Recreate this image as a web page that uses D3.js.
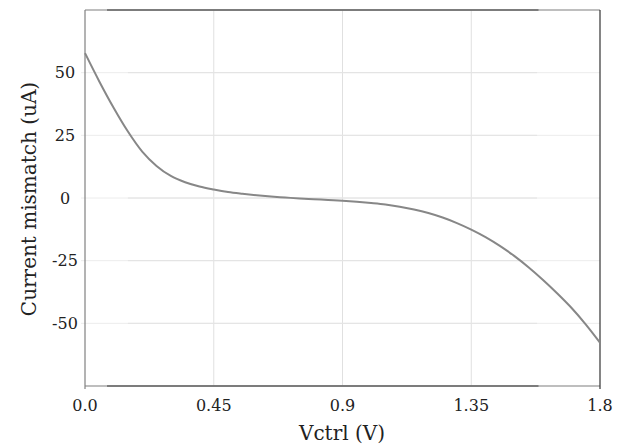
<!DOCTYPE html>
<html><head><meta charset="utf-8">
<script src="https://cdn.jsdelivr.net/npm/d3@7"></script>
<style>body{margin:0;background:#fff}svg{display:block}</style>
</head><body>
<svg id="c" width="626" height="446"></svg>
<script>
const vctrl = [0.00,0.05,0.10,0.15,0.20,0.25,0.30,0.35,0.40,0.45,0.50,0.55,0.60,0.65,0.70,0.75,0.80,0.85,0.90,0.95,1.00,1.05,1.10,1.15,1.20,1.25,1.30,1.35,1.40,1.45,1.50,1.55,1.60,1.65,1.70,1.75,1.80];
const mismatch = [57.8,46.5,36.0,26.5,18.5,12.8,8.8,6.3,4.6,3.4,2.4,1.7,1.1,0.6,0.2,-0.2,-0.5,-0.8,-1.1,-1.5,-2.0,-2.6,-3.5,-4.6,-6.0,-7.8,-10.0,-12.6,-15.6,-19.1,-23.1,-27.6,-32.6,-38.0,-43.8,-50.4,-57.7];
const xTicks = [0.0,0.45,0.9,1.35,1.8];
const xTickLabels = ["0.0","0.45","0.9","1.35","1.8"];
const yTicks = [50,25,0,-25,-50];
const yTickLabels = ["50","25","0","-25","-50"];

const svg = d3.select("#c");
const L=85, R=600, T=10, B=386;
const x = d3.scaleLinear().domain([0,1.8]).range([L,R]);
const y = d3.scaleLinear().domain([-75,75]).range([B,T]);
const font = "'DejaVu Serif', serif";

// grid
svg.append("g").selectAll("line.v").data(xTicks.slice(1,-1)).join("line")
  .attr("x1",d=>x(d)).attr("x2",d=>x(d)).attr("y1",T).attr("y2",B)
  .attr("stroke","#e0e0e0").attr("stroke-width",1);
svg.append("g").selectAll("line.h").data(yTicks).join("line")
  .attr("x1",L-4).attr("x2",R).attr("y1",d=>y(d)).attr("y2",d=>y(d))
  .attr("stroke","#ececec").attr("stroke-width",1);
svg.append("g").selectAll("line.h2").data(yTicks).join("line")
  .attr("x1",x(0.15)).attr("x2",x(1.58)).attr("y1",d=>y(d)).attr("y2",d=>y(d))
  .attr("stroke","#e2e2e2").attr("stroke-width",1);

// frame
[T,B].forEach(yy=>{
  svg.append("line").attr("x1",L).attr("x2",R).attr("y1",yy).attr("y2",yy)
    .attr("stroke","#a8a8a8").attr("stroke-width",1.5);
  svg.append("line").attr("x1",x(0.077)).attr("x2",x(1.585)).attr("y1",yy).attr("y2",yy)
    .attr("stroke","#666").attr("stroke-width",1.5);
});
svg.append("line").attr("x1",L).attr("x2",L).attr("y1",T).attr("y2",B+3)
  .attr("stroke","#808080").attr("stroke-width",1.2);
svg.append("line").attr("x1",R).attr("x2",R).attr("y1",T).attr("y2",B+3)
  .attr("stroke","#333").attr("stroke-width",1.2);

// ticks labels
svg.append("g").selectAll("text").data(xTicks).join("text")
  .attr("x",d=>x(d)).attr("y",B+25).attr("text-anchor","middle")
  .attr("font-family",font).attr("font-size",16).attr("fill","#222")
  .text((d,i)=>xTickLabels[i]);
svg.append("g").selectAll("text").data(yTicks).join("text")
  .attr("x",65).attr("y",d=>y(d)+5.5).attr("text-anchor","middle")
  .attr("font-family",font).attr("font-size",16).attr("fill","#222")
  .text((d,i)=>yTickLabels[i]);

// curve
svg.append("path").datum(vctrl.map((v,i)=>[v,mismatch[i]]))
  .attr("d",d3.line().x(d=>x(d[0])).y(d=>y(d[1])).curve(d3.curveMonotoneX))
  .attr("fill","none").attr("stroke","#878787").attr("stroke-width",2);

// axis titles
svg.append("text").attr("x",342).attr("y",440).attr("text-anchor","middle")
  .attr("font-family",font).attr("font-size",20).attr("fill","#222").text("Vctrl (V)");
svg.append("text").attr("transform","translate(36,199) rotate(-90)").attr("text-anchor","middle")
  .attr("font-family",font).attr("font-size",20).attr("fill","#222").text("Current mismatch (uA)");
</script>
</body></html>
